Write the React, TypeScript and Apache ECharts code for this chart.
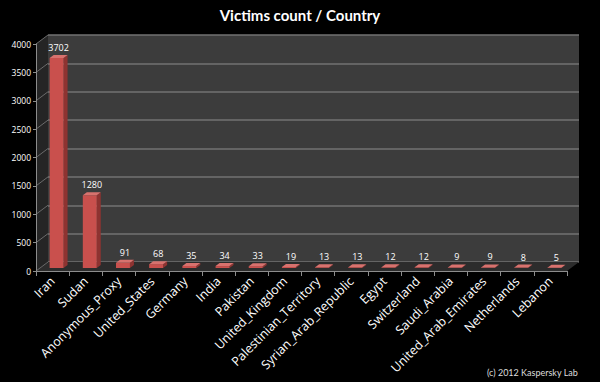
import React, { useEffect, useRef } from "react";
import * as echarts from "echarts";

const countries = [
  "Iran", "Sudan", "Anonymous_Proxy", "United_States", "Germany", "India",
  "Pakistan", "United_Kingdom", "Palestinian_Territory", "Syrian_Arab_Republic",
  "Egypt", "Switzerland", "Saudi_Arabia", "United_Arab_Emirates", "Netherlands", "Lebanon",
];
const victims = [3702, 1280, 91, 68, 35, 34, 33, 19, 13, 13, 12, 12, 9, 9, 8, 5];
const yMin = 0;
const yMax = 4000;
const yStep = 500;

const DX = 12;
const DY = -9;

export default function App() {
  const ref = useRef<HTMLDivElement>(null);
  useEffect(() => {
    if (!ref.current) return;
    const chart = echarts.init(ref.current, null, { renderer: "svg" });
    const ticks: number[] = [];
    for (let t = yMin; t <= yMax; t += yStep) ticks.push(t);

    const option: any = {
      animation: false,
      backgroundColor: "#000",
      title: [
        {
          text: "Victims count / Country",
          left: "center",
          top: 2,
          textStyle: { color: "#fff", fontSize: 15, fontWeight: "bold", fontFamily: "Lato" },
        },
        {
          text: "(c) 2012 Kaspersky Lab",
          right: 17,
          bottom: 0,
          textStyle: { color: "#ddd", fontSize: 9, fontWeight: "normal", fontFamily: "Lato" },
        },
      ],
      grid: [
        {
          left: 36 + DX, top: 44 + DY, width: 531, height: 227,
          show: true, backgroundColor: "#3c3c3c", borderWidth: 0, outerBoundsMode: "none",
        },
        {
          left: 36, top: 44, width: 531, height: 227,
          show: false, outerBoundsMode: "none",
        },
      ],
      xAxis: [
        { type: "category", data: countries, gridIndex: 0, show: false },
        {
          type: "category", data: countries, gridIndex: 1, z: 5,
          axisLine: { show: true, lineStyle: { color: "#8c8c8c", width: 1 } },
          axisTick: { show: true, length: 5, lineStyle: { color: "#8c8c8c" } },
          axisLabel: {
            interval: 0, rotate: 45, margin: 8, color: "#fff",
            fontSize: 12.5, fontFamily: "Open Sans",
          },
        },
      ],
      yAxis: [
        {
          type: "value", gridIndex: 0, min: yMin, max: yMax, interval: yStep,
          axisLine: { show: false }, axisTick: { show: false }, axisLabel: { show: false },
          splitLine: { show: true, lineStyle: { color: "#727272", width: 1.5 } },
        },
        {
          type: "value", gridIndex: 1, min: yMin, max: yMax, interval: yStep, z: 5,
          axisLine: { show: true, lineStyle: { color: "#8c8c8c", width: 1 } },
          axisTick: { show: true, length: 3, lineStyle: { color: "#8c8c8c" } },
          axisLabel: {
            color: "#fff", fontSize: 8.5, fontFamily: "Open Sans", margin: 5,
            formatter: (v: number) => String(v),
          },
          splitLine: { show: false },
        },
      ],
      series: [
        {
          type: "custom",
          xAxisIndex: 1,
          yAxisIndex: 1,
          z: 1,
          silent: true,
          data: [[0, 0]],
          renderItem: (params: any, api: any) => {
            const cw = api.size([1, 0])[0];
            const p0 = api.coord([0, yMin]);
            const pTop = api.coord([0, yMax]);
            const pN = api.coord([countries.length - 1, yMin]);
            const left = p0[0] - cw / 2;
            const right = pN[0] + cw / 2;
            const bottom = p0[1];
            const top = pTop[1];
            const children: any[] = [
              {
                type: "polygon",
                shape: { points: [[left, top], [left + DX, top + DY], [left + DX, bottom + DY], [left, bottom]] },
                style: { fill: "#252525" },
              },
              {
                type: "polygon",
                shape: { points: [[left, bottom], [left + DX, bottom + DY], [right + DX, bottom + DY], [right, bottom]] },
                style: { fill: "#2c2c2c" },
              },
            ];
            ticks.forEach((t) => {
              const y = api.coord([0, t])[1];
              children.push({
                type: "line",
                shape: { x1: left, y1: y, x2: left + DX, y2: y + DY },
                style: { stroke: "#6a6a6a", lineWidth: 1 },
              });
            });
            return { type: "group", children };
          },
        },
        {
          type: "custom",
          xAxisIndex: 1,
          yAxisIndex: 1,
          z: 2,
          data: victims.map((v, i) => [i, v]),
          encode: { x: 0, y: 1 },
          renderItem: (params: any, api: any) => {
            const i = api.value(0);
            const v = api.value(1);
            const base = api.coord([i, 0]);
            const topP = api.coord([i, v]);
            const cw = api.size([1, 0])[0];
            const w = cw * 0.42;
            const ox = 4, oy = -3;
            const dx = 4, dy = -3;
            const x0 = base[0] - w / 2 + ox;
            const x1 = x0 + w;
            const yb = base[1] + oy;
            const yt = topP[1] + oy;
            return {
              type: "group",
              children: [
                {
                  type: "polygon",
                  shape: { points: [[x1, yt], [x1 + dx, yt + dy], [x1 + dx, yb + dy], [x1, yb]] },
                  style: { fill: "#8e3331" },
                },
                {
                  type: "polygon",
                  shape: { points: [[x0, yt], [x1, yt], [x1, yb], [x0, yb]] },
                  style: { fill: "#c9504d" },
                },
                {
                  type: "polygon",
                  shape: { points: [[x0, yt], [x1, yt], [x1 + dx, yt + dy], [x0 + dx, yt + dy]] },
                  style: { fill: "#d8726e" },
                },
                {
                  type: "text",
                  style: {
                    text: String(v),
                    x: (x0 + x1 + dx) / 2,
                    y: yt + dy - 3,
                    fill: "#fff",
                    fontSize: 9,
                    fontFamily: "Open Sans",
                    align: "center",
                    verticalAlign: "bottom",
                  },
                },
              ],
            };
          },
        },
      ],
    };
    chart.setOption(option);
    return () => chart.dispose();
  }, []);
  return (
    <div
      ref={ref}
      style={{ position: "fixed", left: 0, top: 0, width: 600, height: 382, background: "#000" }}
    />
  );
}
